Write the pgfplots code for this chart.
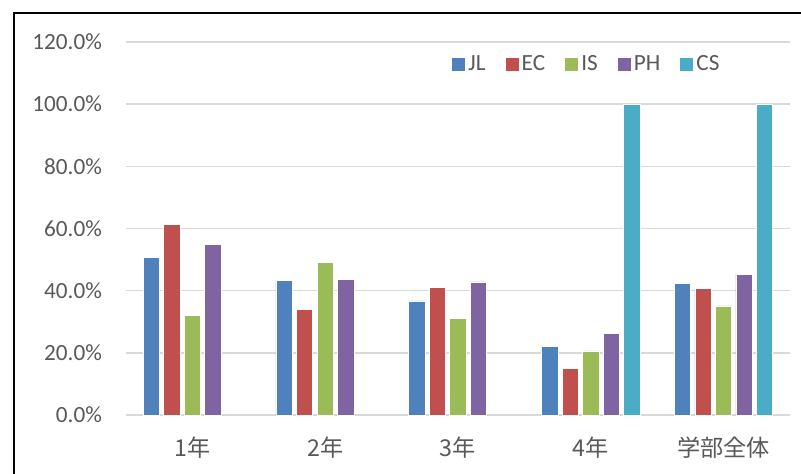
\documentclass[border=0pt]{standalone}
\usepackage{pgfplots}
\pgfplotsset{compat=1.18}
\usepackage{fontspec}
\setmainfont{Carlito}
\newfontfamily\cjk{Noto Sans CJK JP}
\definecolor{jl}{HTML}{4F81BD}
\definecolor{ec}{HTML}{C0504D}
\definecolor{is}{HTML}{9BBB59}
\definecolor{ph}{HTML}{8064A2}
\definecolor{cs}{HTML}{4BACC6}
\definecolor{txt}{HTML}{595959}
\definecolor{gridc}{HTML}{D9D9D9}
\newcommand{\fs}{\fontsize{11.6pt}{14pt}\selectfont}
\begin{document}
\begin{tikzpicture}
\useasboundingbox (-63pt,-29pt) rectangle (337.5pt,207.5pt);
\fill[white] (-63pt,-29pt) rectangle (337.5pt,207.5pt);
\begin{axis}[
  at={(0,0)}, anchor=south west,
  scale only axis, width=332pt, height=186.5pt,
  xmin=-0.5, xmax=4.5, ymin=0, ymax=120,
  ybar=2.05pt, bar width=8.2pt,
  axis line style={draw=none},
  major tick length=0pt,
  xmajorgrids=false, ymajorgrids=true,
  grid style={draw=gridc, line width=0.75pt},
  ytick={0,20,40,60,80,100,120},
  yticklabels={0.0\%,20.0\%,40.0\%,60.0\%,80.0\%,100.0\%,120.0\%},
  yticklabel style={font=\fs, text=txt, anchor=east, inner sep=0pt, xshift=-11.85pt},
  xtick={0,1,2,3,4},
  xticklabels={{\cjk 1年},{\cjk 2年},{\cjk 3年},{\cjk 4年},{\cjk 学部全体}},
  xticklabel style={font=\fs, text=txt, anchor=center, inner sep=0pt, yshift=-16.5pt},
  legend style={at={(0.6936,0.94)}, anchor=center, draw=none, fill=none,
    font=\fs, text=txt, nodes={inner sep=1.2pt},
    /tikz/every even column/.append style={column sep=8.25pt}},
  legend columns=-1,
  legend image code/.code={\fill[#1] (0pt,-3.5pt) rectangle (7pt,3.5pt);},
  every axis plot/.append style={draw=white, line width=0.4pt},
]
\addplot[fill=jl] coordinates {(0,50.7) (1,43.3) (2,36.7) (3,22.0) (4,42.4)};
\addplot[fill=ec] coordinates {(0,61.4) (1,34.1) (2,41.1) (3,14.9) (4,40.6)};
\addplot[fill=is] coordinates {(0,32.1) (1,49.0) (2,31.2) (3,20.6) (4,35.1)};
\addplot[fill=ph] coordinates {(0,54.9) (1,43.7) (2,42.8) (3,26.1) (4,45.3)};
\addplot[fill=cs] coordinates {(3,100) (4,100)};
\legend{JL,EC,IS,PH,CS}
\end{axis}
\draw[line width=0.85pt] (-55.85pt,-40pt) -- (-55.85pt,200.85pt) -- (350pt,200.85pt);
\end{tikzpicture}
\end{document}
